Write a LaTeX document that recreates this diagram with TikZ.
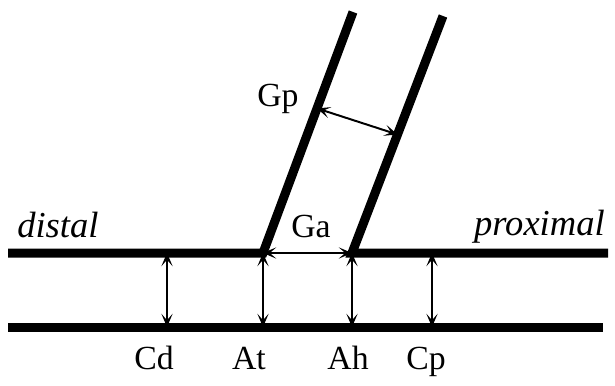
\documentclass[tikz,border=0pt]{standalone}
\usepackage{fontspec}
\setmainfont{Liberation Serif}
\usepackage{tikz}
\usetikzlibrary{arrows.meta,calc}

\begin{document}
\begin{tikzpicture}[x=0.025cm,y=-0.025cm,
		wall/.style={line width=6.4pt},
		gap/.style={line width=1.4pt,{Stealth[length=3.3mm,width=2.8mm,inset=1.6mm]}-{Stealth[length=3.3mm,width=2.8mm,inset=1.6mm]}},
		lbl/.style={inner sep=0pt,anchor=base,font=\fontsize{24}{28}\selectfont},
		side/.style={inner sep=0pt,font=\fontsize{26}{30}\selectfont\itshape}]
			\useasboundingbox (0,0) rectangle (615,386);
			% wall points
			\coordinate (dL) at (8,253);
			\coordinate (jt) at (263,253);
			\coordinate (tt) at (353,12);
			\coordinate (jh) at (352,253);
			\coordinate (th) at (443,16);
			\coordinate (pR) at (608,253);
			\coordinate (bL) at (8,327);
			\coordinate (bR) at (603,327);
			\draw[wall] (dL) -- (jt) -- (tt);
			\draw[wall] (th) -- (jh) -- (pR);
			\draw[wall] (bL) -- (bR);
			% gaps
			\coordinate (gpL) at ($(jt)!0.6!(tt)$);
			\coordinate (gpR) at ($(jh)!0.5!(th)$);
			\coordinate (cdT) at (167,253);
			\coordinate (cpT) at (432,253);
			\draw[gap] (gpL) -- (gpR);
			\draw[gap] (jt) -- (jh);
			\draw[gap] (cdT) -- (cdT |- bL);
			\draw[gap] (jt) -- (jt |- bL);
			\draw[gap] (jh) -- (jh |- bL);
			\draw[gap] (cpT) -- (cpT |- bL);
			% labels
			\node[side,anchor=base west] (distal) at (17,237) {distal};
			\node[side,anchor=base east] (proximal) at (605,235) {proximal};
			\node[lbl] (ga) at (311,237) {Ga};
			\node[lbl] (gp) at (278,107) {Gp};
			\node[lbl] (cd) at (154,369) {Cd};
			\node[lbl] (at) at (249,369) {At};
			\node[lbl] (ah) at (348,369) {Ah};
			\node[lbl] (cp) at (426,369) {Cp};
		\end{tikzpicture}
\end{document}
